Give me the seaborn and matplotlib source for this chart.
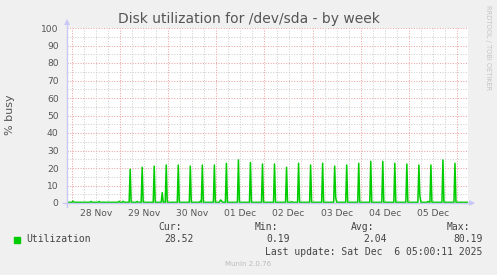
import matplotlib
matplotlib.use("Agg")
import matplotlib.pyplot as plt
from matplotlib.lines import Line2D
import numpy as np
import pandas as pd
import seaborn as sns

# ---------------- data ----------------
x_start = "2025-11-27 21:30"
x_end = "2025-12-06 05:30"
baseline = 0.4

spike_times = [
    "2025-11-29 05:00", "2025-11-29 11:00", "2025-11-29 17:00", "2025-11-29 23:00",
    "2025-11-30 05:00", "2025-11-30 11:00", "2025-11-30 17:00", "2025-11-30 23:00",
    "2025-12-01 05:00", "2025-12-01 11:00", "2025-12-01 17:00", "2025-12-01 23:00",
    "2025-12-02 05:00", "2025-12-02 11:00", "2025-12-02 17:00", "2025-12-02 23:00",
    "2025-12-03 05:00", "2025-12-03 11:00", "2025-12-03 17:00", "2025-12-03 23:00",
    "2025-12-04 05:00", "2025-12-04 11:00", "2025-12-04 17:00", "2025-12-04 23:00",
    "2025-12-05 05:00", "2025-12-05 11:00", "2025-12-05 17:00", "2025-12-05 23:00",
]
spike_values = [
    19.3, 20.4, 21.1, 21.7,
    21.7, 21.1, 21.7, 21.7,
    22.7, 24.6, 23.2, 22.3,
    22.3, 20.4, 22.7, 21.7,
    22.7, 21.1, 21.7, 22.7,
    23.8, 23.8, 22.7, 22.3,
    21.7, 21.7, 24.6, 22.7,
]

bump_times = [
    "2025-11-28 00:30", "2025-11-28 09:30", "2025-11-28 13:30", "2025-11-28 23:30",
    "2025-11-29 01:30", "2025-11-29 08:30", "2025-11-29 21:00", "2025-11-30 16:00",
    "2025-12-01 02:00", "2025-12-01 02:30", "2025-12-02 13:30", "2025-12-03 11:30",
    "2025-12-05 05:30", "2025-12-05 09:30",
]
bump_values = [
    1.1, 0.9, 0.9, 1.0,
    1.0, 0.9, 5.9, 1.0,
    1.7, 1.4, 0.8, 3.2,
    4.2, 0.9,
]

y_ticks = [0, 10, 20, 30, 40, 50, 60, 70, 80, 90, 100]
day_labels = ["28 Nov", "29 Nov", "30 Nov", "01 Dec", "02 Dec", "03 Dec", "04 Dec", "05 Dec"]
day_dates = ["2025-11-28", "2025-11-29", "2025-11-30", "2025-12-01",
             "2025-12-02", "2025-12-03", "2025-12-04", "2025-12-05"]

legend_name = "Utilization"
stat_names = ["Cur:", "Min:", "Avg:", "Max:"]
stat_values = ["28.52", "0.19", "2.04", "80.19"]
last_update = "Last update: Sat Dec  6 05:00:11 2025"
title = "Disk utilization for /dev/sda - by week"
ylabel = "% busy"
side_text = "RRDTOOL / TOBI OETIKER"
footer = "Munin 2.0.76"

# ---------------- build series at 30-min resolution ----------------
idx = pd.date_range(x_start, x_end, freq="30min")
series = pd.Series(baseline, index=idx)
for t, v in zip(bump_times, bump_values):
    series[pd.Timestamp(t)] = v
for t, v in zip(spike_times, spike_values):
    series[pd.Timestamp(t)] = v
df = pd.DataFrame({"time": series.index, "busy": series.values})

# ---------------- figure ----------------
W, H = 497, 275
fig = plt.figure(figsize=(W / 100, H / 100), dpi=100, facecolor="#F0F0F0")
L, R, T, B = 67, 468, 28, 203
ax = fig.add_axes([L / W, 1 - B / H, (R - L) / W, (B - T) / H])
ax.set_facecolor("white")

t0, t1 = pd.Timestamp(x_start), pd.Timestamp(x_end)
ax.set_xlim(t0, t1)
ax.set_ylim(0, 100)

minor_col = "#D0D0D0"
major_col = "#EDA5A5"
dots = (0, (1, 1.5))
glw = 0.75

# horizontal grid
for y in range(5, 101, 5):
    ax.axhline(y, color=major_col if y % 10 == 0 else minor_col, lw=glw, ls=dots, zorder=1)
# vertical grid
for t in pd.date_range("2025-11-28 00:00", x_end, freq="6h"):
    ax.axvline(t, color=major_col if t.hour == 0 else minor_col, lw=glw, ls=dots, zorder=1)

sns.lineplot(data=df, x="time", y="busy", ax=ax, color="#00CC00",
             linewidth=1.1, estimator=None, zorder=3, legend=False)

ax.set_xlabel("")
ax.set_ylabel("")
ax.set_yticks(y_ticks)
ax.set_yticklabels([str(v) for v in y_ticks])
noon = [pd.Timestamp(d) + pd.Timedelta(hours=12) for d in day_dates]
ax.set_xticks(noon)
ax.set_xticklabels(day_labels)
ax.tick_params(axis="both", length=0, colors="#555555", labelsize=6.6)
ax.tick_params(axis="y", pad=6)
ax.tick_params(axis="x", pad=4)

for s in ax.spines.values():
    s.set_visible(False)

axis_col = "#C8C8F8"
# left axis with arrow
fig.add_artist(Line2D([L / W, L / W], [1 - 207 / H, 1 - 22 / H], color=axis_col, lw=1.0))
fig.add_artist(Line2D([L / W], [1 - 22 / H], marker="^", markersize=5,
                      color=axis_col, markeredgewidth=0))
# bottom axis with arrow
fig.add_artist(Line2D([63 / W, 472 / W], [1 - B / H, 1 - B / H], color=axis_col, lw=1.0))
fig.add_artist(Line2D([472 / W], [1 - B / H], marker=">", markersize=5,
                      color=axis_col, markeredgewidth=0))

fig.text(0.5, 1 - 19 / H, title, ha="center", va="center", fontsize=10, color="#555555")
fig.text(10 / W, 1 - 115 / H, ylabel, ha="center", va="center", rotation=90,
         fontsize=8, color="#555555")
fig.text(488 / W, 1 - 5 / H, side_text, ha="center", va="top", rotation=270,
         fontsize=4.8, color="#C4C4C4")
fig.text(248 / W, 1 - 264 / H, footer, ha="center", va="center", fontsize=5,
         color="#BBBBBB")

mono = dict(family="DejaVu Sans Mono", fontsize=7, color="#444444")
# legend square
fig.add_artist(plt.Rectangle((14 / W, 1 - 243 / H), 6 / W, 6 / H,
                             color="#00CC00", transform=fig.transFigure))
fig.text(26 / W, 1 - 239.5 / H, legend_name, ha="left", va="center", **mono)
stat_name_ends = [181.7, 277.7, 374.3, 470]
stat_val_ends = [194, 290, 386.7, 482.7]
for n, v, xe, xv in zip(stat_names, stat_values, stat_name_ends, stat_val_ends):
    fig.text(xe / W, 1 - 227.5 / H, n, ha="right", va="center", **mono)
    fig.text(xv / W, 1 - 239.5 / H, v, ha="right", va="center", **mono)
fig.text(482.7 / W, 1 - 251.7 / H, last_update, ha="right", va="center", **mono)

fig.savefig("out.png", dpi=100, facecolor=fig.get_facecolor())
